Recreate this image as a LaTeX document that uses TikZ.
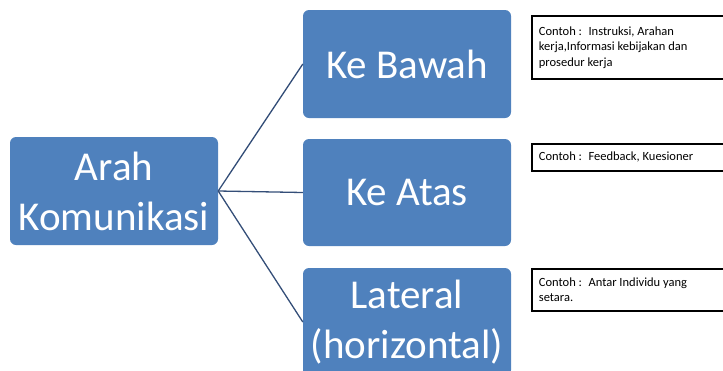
\documentclass[tikz,border=0pt]{standalone}
\usepackage{fontspec}
\setmainfont{Carlito}
\usetikzlibrary{positioning}
\definecolor{boxblue}{RGB}{79,129,189}
\definecolor{linkblue}{RGB}{52,78,120}

\begin{document}
\begin{tikzpicture}[
        x=1pt,y=-1pt,
        bigbox/.style={
        rectangle,
        rounded corners=6pt,
        fill=boxblue,
        text=white,
        align=center,
        inner sep=2pt,
        minimum width=208pt,
        minimum height=108pt,
        font=\fontsize{41}{50}\selectfont},
    notebox/.style={
        rectangle,
        draw=black,
        line width=1.8pt,
        anchor=north west,
        align=flush left,
        inner sep=7pt,
        text width=226pt,
        font=\fontsize{12.5}{15.5}\selectfont},
    link/.style={draw=linkblue,line width=1.3pt}
    ]
    \clip (0,0) rectangle (723,370);
    \node[bigbox] (arah) at (114,191) {Arah\\Komunikasi};
    \node[bigbox] (bawah) at (407,64) {Ke Bawah};
    \node[bigbox,minimum height=107pt] (atas) at (407,192.5) {Ke Atas};
    \node[bigbox] (lateral) at (407,322) {Lateral\\(horizontal)};

    \node[notebox,minimum height=63pt] (nbawah) at (531,15)
        {Contoh :~ Instruksi, Arahan\\kerja,Informasi kebijakan dan\\prosedur kerja};
    \node[notebox,minimum height=27pt,inner ysep=3pt] (natas) at (531,143)
        {Contoh :~ Feedback, Kuesioner};
    \node[notebox,minimum height=42pt] (nlateral) at (531,268)
        {Contoh :~ Antar Individu yang\\setara.};

    \foreach \j in {bawah,atas,lateral}% root to each direction
        \draw [link] (arah.east) -- (\j.west);
    \end{tikzpicture}
\end{document}
